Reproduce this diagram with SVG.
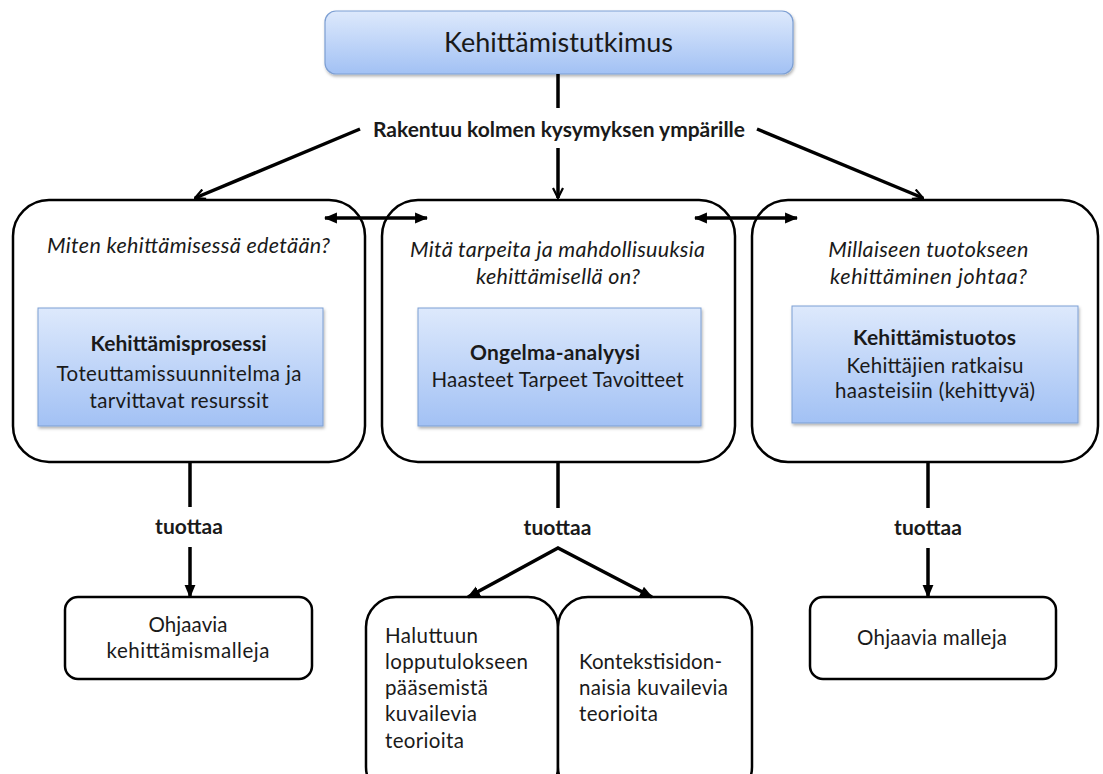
<svg xmlns="http://www.w3.org/2000/svg" width="1103" height="774" viewBox="0 0 1103 774">
<defs>
<linearGradient id="blue" x1="0" y1="0" x2="0" y2="1">
<stop offset="0" stop-color="#dde9fc"/>
<stop offset="1" stop-color="#a2c1f4"/>
</linearGradient>
<filter id="sh" x="-10%" y="-10%" width="120%" height="130%">
<feDropShadow dx="1" dy="2" stdDeviation="1.5" flood-color="#000" flood-opacity="0.3"/>
</filter>
<marker id="vee" viewBox="0 0 12 12" refX="11" refY="6" markerWidth="12" markerHeight="12" markerUnits="userSpaceOnUse" orient="auto">
<path d="M1,1 L11,6 L1,11" fill="none" stroke="#000" stroke-width="2.2"/>
</marker>
<marker id="tri" viewBox="0 0 12 12" refX="11" refY="6" markerWidth="13" markerHeight="13" markerUnits="userSpaceOnUse" orient="auto-start-reverse">
<path d="M0,1 L12,6 L0,11 z" fill="#000"/>
</marker>
</defs>
<style>
.t{font-family:Lato,"Liberation Sans",sans-serif;fill:#1a1a1a;font-size:20.5px;}
.c{text-anchor:middle;}
.b{font-weight:bold;font-size:21px;}
.i{font-style:italic;font-size:21.5px;}
.big{fill:#fff;stroke:#000;stroke-width:2.5;}
.small{fill:#fff;stroke:#000;stroke-width:2.5;}
.inner{fill:url(#blue);stroke:#7d9fd3;stroke-width:1;filter:url(#sh);}
.ln{stroke:#000;stroke-width:3.5;fill:none;}
</style>

<g id="top">
<rect x="325" y="11" width="468" height="63" rx="11" fill="url(#blue)" stroke="#7d9fd3" stroke-width="1.2" filter="url(#sh)"/>
<text class="t c" x="558.5" y="52" style="font-size:27px" textLength="229" lengthAdjust="spacing">Kehittämistutkimus</text>
</g>
<g id="label-rakentuu">
<text class="t c b" x="559" y="137" textLength="372" lengthAdjust="spacing">Rakentuu kolmen kysymyksen ympärille</text>
</g>

<g id="box-left">
<rect class="big" x="13" y="200" width="352" height="262" rx="36"/>
<text class="t c i" x="188.5" y="253" textLength="283" lengthAdjust="spacing">Miten kehittämisessä edetään?</text>
<rect class="inner" x="38" y="308" width="285" height="118"/>
<text class="t c b" x="178.5" y="351" textLength="176" lengthAdjust="spacing">Kehittämisprosessi</text>
<text class="t c" x="179" y="381" textLength="245" lengthAdjust="spacing">Toteuttamissuunnitelma ja</text>
<text class="t c" x="179" y="408" textLength="179" lengthAdjust="spacing">tarvittavat resurssit</text>
</g>

<g id="box-middle">
<rect class="big" x="382" y="200" width="353" height="262" rx="36"/>
<text class="t c i" x="557.5" y="257" textLength="295" lengthAdjust="spacing">Mitä tarpeita ja mahdollisuuksia</text>
<text class="t c i" x="558" y="284" textLength="164" lengthAdjust="spacing">kehittämisellä on?</text>
<rect class="inner" x="418" y="308" width="283" height="118"/>
<text class="t c b" x="555" y="360" textLength="170" lengthAdjust="spacing">Ongelma-analyysi</text>
<text class="t c" x="557.5" y="387" textLength="252" lengthAdjust="spacing">Haasteet Tarpeet Tavoitteet</text>
</g>

<g id="box-right">
<rect class="big" x="752" y="200" width="346" height="262" rx="36"/>
<text class="t c i" x="928.3" y="257" textLength="200" lengthAdjust="spacing">Millaiseen tuotokseen</text>
<text class="t c i" x="928.6" y="284" textLength="197" lengthAdjust="spacing">kehittäminen johtaa?</text>
<rect class="inner" x="792" y="306" width="286" height="117"/>
<text class="t c b" x="934.6" y="345" textLength="163" lengthAdjust="spacing">Kehittämistuotos</text>
<text class="t c" x="935" y="373" textLength="177" lengthAdjust="spacing">Kehittäjien ratkaisu</text>
<text class="t c" x="935" y="398" textLength="200" lengthAdjust="spacing">haasteisiin (kehittyvä)</text>
</g>

<g id="label-tuottaa-1"><text class="t c b" x="189" y="534" textLength="68" lengthAdjust="spacing">tuottaa</text></g>
<g id="label-tuottaa-2"><text class="t c b" x="557.5" y="535" textLength="68" lengthAdjust="spacing">tuottaa</text></g>
<g id="label-tuottaa-3"><text class="t c b" x="928" y="535" textLength="68" lengthAdjust="spacing">tuottaa</text></g>

<g id="out-left">
<rect class="small" x="65" y="597" width="247" height="82" rx="13"/>
<text class="t c" x="188" y="632" textLength="79" lengthAdjust="spacing">Ohjaavia</text>
<text class="t c" x="188" y="658" textLength="163" lengthAdjust="spacing">kehittämismalleja</text>
</g>

<g id="out-mid-left">
<rect class="small" x="366" y="597" width="192" height="200" rx="30"/>
<text class="t" x="385" y="643" textLength="93" lengthAdjust="spacing">Haluttuun</text>
<text class="t" x="385" y="669" textLength="143" lengthAdjust="spacing">lopputulokseen</text>
<text class="t" x="385" y="695" textLength="103" lengthAdjust="spacing">pääsemistä</text>
<text class="t" x="385" y="721" textLength="92" lengthAdjust="spacing">kuvailevia</text>
<text class="t" x="385" y="748" textLength="79" lengthAdjust="spacing">teorioita</text>
</g>

<g id="out-mid-right">
<rect class="small" x="558" y="597" width="194" height="200" rx="30"/>
<text class="t" x="579" y="669" textLength="143" lengthAdjust="spacing">Kontekstisidon-</text>
<text class="t" x="579" y="695" textLength="149" lengthAdjust="spacing">naisia kuvailevia</text>
<text class="t" x="579" y="721" textLength="79" lengthAdjust="spacing">teorioita</text>
</g>

<g id="out-right">
<rect class="small" x="810" y="597" width="246" height="82" rx="13"/>
<text class="t c" x="932" y="645" textLength="150" lengthAdjust="spacing">Ohjaavia malleja</text>
</g>

<g id="connectors">
<line class="ln" x1="558" y1="74" x2="558" y2="108"/>
<line class="ln" x1="558" y1="148" x2="558" y2="198" marker-end="url(#vee)"/>
<line class="ln" x1="360" y1="129" x2="195" y2="198" marker-end="url(#vee)"/>
<line class="ln" x1="757" y1="129" x2="923" y2="198" marker-end="url(#vee)"/>
<line class="ln" x1="325" y1="218" x2="427" y2="218" marker-start="url(#tri)" marker-end="url(#tri)"/>
<line class="ln" x1="695" y1="218" x2="797" y2="218" marker-start="url(#tri)" marker-end="url(#tri)"/>
<line class="ln" x1="190" y1="463" x2="190" y2="507"/>
<line class="ln" x1="190" y1="547" x2="190" y2="597" marker-end="url(#tri)"/>
<line class="ln" x1="558" y1="463" x2="558" y2="508"/>
<polyline class="ln" points="468,597 558,548 652,597" marker-start="url(#tri)" marker-end="url(#tri)"/>
<line class="ln" x1="928" y1="463" x2="928" y2="508"/>
<line class="ln" x1="928" y1="548" x2="928" y2="597" marker-end="url(#tri)"/>
</g>
</svg>
